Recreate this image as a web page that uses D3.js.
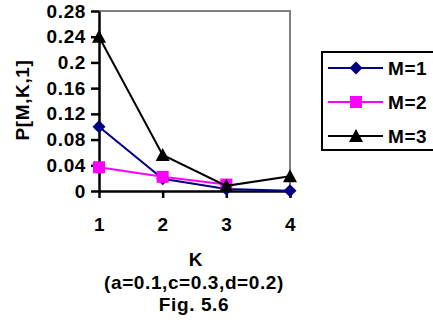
<!DOCTYPE html>
<html>
<head>
<meta charset="utf-8">
<script src="https://cdn.jsdelivr.net/npm/d3@7"></script>
<style>
  html, body { margin: 0; padding: 0; background: #fff; }
  svg { display: block; font-family: Arial, "Liberation Sans", sans-serif; font-weight: bold; letter-spacing: 0.6px; }
</style>
</head>
<body>
<svg id="chart" width="433" height="326"></svg>
<script>
// Category positions along the K axis
const kValues = [1, 2, 3, 4];
const yTicks = [0, 0.04, 0.08, 0.12, 0.16, 0.2, 0.24, 0.28];

// Series values P[M,K,1]
const m1 = [0.100, 0.019, 0.003, 0.0005];
const m2 = [0.037, 0.022, 0.010];
const m3 = [0.240, 0.056, 0.008, 0.023];

const seriesNames = ["M=1", "M=2", "M=3"];
const seriesColors = ["#000080", "#ff00ff", "#000000"];
const seriesData = [m1, m2, m3];

// Marker outlines: diamond, square, triangle
const markerPaths = [
  "M0,-6.5L6.5,0L0,6.5L-6.5,0Z",
  "M-6,-6H6V6H-6Z",
  "M0,-7L7,6H-7Z"
];

const FONT = 19;
const svg = d3.select("#chart");
const plotLeft = 99, plotRight = 290, plotTop = 11, plotBottom = 191;

const x = d3.scaleLinear().domain([1, 4]).range([plotLeft, plotRight]);
const y = d3.scaleLinear().domain([0, 0.28]).range([plotBottom, plotTop]);

// Plot frame (top and right edges in grey)
svg.append("path")
  .attr("d", `M${plotLeft},${plotTop}H${plotRight}V${plotBottom}`)
  .attr("fill", "none").attr("stroke", "#808080").attr("stroke-width", 2);

function styleAxis(g) {
  g.select(".domain").attr("stroke", "#000").attr("stroke-width", 2.5);
  g.selectAll(".tick line").attr("stroke", "#000").attr("stroke-width", 2.5);
  g.selectAll(".tick text").attr("font-size", FONT).attr("font-weight", "bold")
    .attr("font-family", "Arial, 'Liberation Sans', sans-serif").attr("fill", "#000");
}

// Y axis
const yAxis = svg.append("g")
  .attr("transform", `translate(${plotLeft},0)`)
  .call(d3.axisLeft(y).tickValues(yTicks).tickSize(8).tickPadding(5).tickSizeOuter(0)
    .tickFormat(d => d === 0 ? "0" : String(+d.toFixed(2))));
styleAxis(yAxis);

// X axis
const xAxis = svg.append("g")
  .attr("transform", `translate(0,${plotBottom})`)
  .call(d3.axisBottom(x).tickValues(kValues).tickSize(7).tickPadding(20).tickSizeOuter(0)
    .tickFormat(d3.format("d")));
styleAxis(xAxis);

// Axis titles and caption
svg.append("text")
  .attr("transform", "translate(29,100) rotate(-90)")
  .attr("text-anchor", "middle").attr("font-size", FONT).text("P[M,K,1]");
svg.append("text").attr("x", 196).attr("y", 266)
  .attr("text-anchor", "middle").attr("font-size", FONT).text("K");
svg.append("text").attr("x", 194).attr("y", 289)
  .attr("text-anchor", "middle").attr("font-size", FONT).text("(a=0.1,c=0.3,d=0.2)");
svg.append("text").attr("x", 194).attr("y", 311)
  .attr("text-anchor", "middle").attr("font-size", FONT).text("Fig. 5.6");

// Lines and markers
const line = d3.line().x((d, i) => x(kValues[i])).y(d => y(d));
seriesData.forEach((vals, s) => {
  const g = svg.append("g");
  g.append("path").datum(vals).attr("d", line)
    .attr("fill", "none").attr("stroke", seriesColors[s]).attr("stroke-width", 2);
  g.selectAll("path.mark").data(vals).join("path").attr("class", "mark")
    .attr("transform", (d, i) => `translate(${x(kValues[i])},${y(d)})`)
    .attr("d", markerPaths[s])
    .attr("fill", seriesColors[s]);
});

// Legend
const lg = svg.append("g");
lg.append("rect").attr("x", 322).attr("y", 52).attr("width", 115).attr("height", 98)
  .attr("fill", "#fff").attr("stroke", "#000").attr("stroke-width", 2);
const legendY = [68, 102, 136];
seriesNames.forEach((name, s) => {
  lg.append("line").attr("x1", 328).attr("x2", 383)
    .attr("y1", legendY[s]).attr("y2", legendY[s])
    .attr("stroke", seriesColors[s]).attr("stroke-width", 2);
  lg.append("path").attr("transform", `translate(356,${legendY[s]})`)
    .attr("d", markerPaths[s])
    .attr("fill", seriesColors[s]);
  lg.append("text").attr("x", 388).attr("y", legendY[s] + 7)
    .attr("font-size", FONT).text(name);
});
</script>
</body>
</html>
